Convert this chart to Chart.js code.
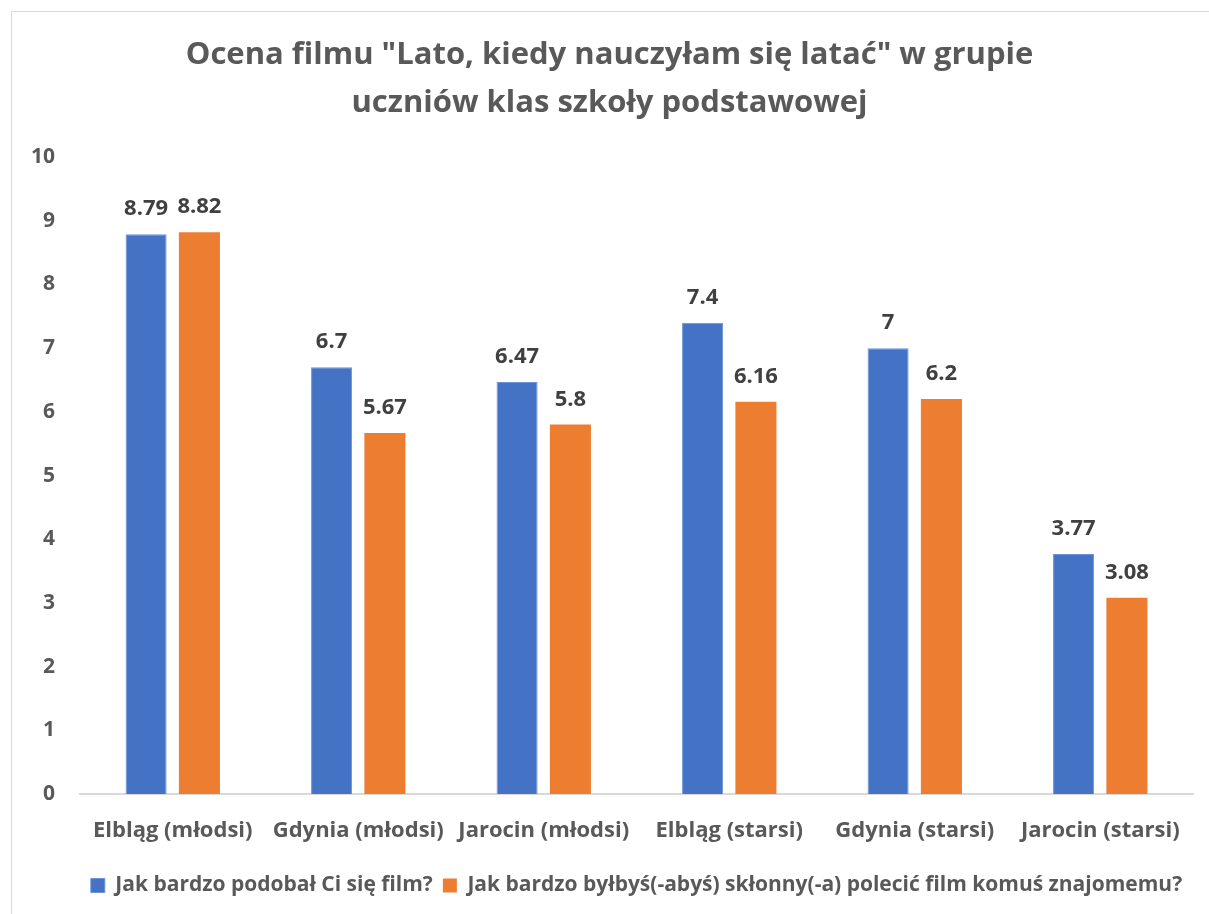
<!DOCTYPE html>
<html>
<head>
<meta charset="utf-8">
<script src="https://cdn.jsdelivr.net/npm/chart.js@4/dist/chart.umd.min.js"></script>
<style>
  html, body { margin: 0; padding: 0; background: #fff; overflow: hidden; }
  #wrap { width: 1209px; height: 914px; }
</style>
</head>
<body>
<div id="wrap"><canvas id="chart" width="1209" height="914"></canvas></div>
<script>
// categories and values
const categories = ['Elbląg (młodsi)', 'Gdynia (młodsi)', 'Jarocin (młodsi)', 'Elbląg (starsi)', 'Gdynia (starsi)', 'Jarocin (starsi)'];
const seriesNames = ['Jak bardzo podobał Ci się film?', 'Jak bardzo byłbyś(-abyś) skłonny(-a) polecić film komuś znajomemu?'];
const likedValues = [8.79, 6.7, 6.47, 7.4, 7, 3.77];
const recommendValues = [8.82, 5.67, 5.8, 6.16, 6.2, 3.08];
const yTicks = [0, 1, 2, 3, 4, 5, 6, 7, 8, 9, 10];

const FONT = "'Open Sans', 'Noto Sans', sans-serif";

// light grey frame around the whole chart (like the office chart area)
const framePlugin = {
    id: 'frame',
    beforeDraw(chart) {
        const c = chart.ctx;
        c.save();
        c.fillStyle = '#fff';
        c.fillRect(0, 0, chart.width, chart.height);
        c.strokeStyle = '#d9d9d9';
        c.lineWidth = 1;
        c.strokeRect(11.5, 11.5, chart.width + 20, chart.height + 20);
        c.restore();
    }
};

// value labels above each bar
const valueLabels = {
    id: 'valueLabels',
    afterDatasetsDraw(chart) {
        const c = chart.ctx;
        c.save();
        c.font = 'bold 22px ' + FONT;
        c.fillStyle = '#404040';
        c.textAlign = 'center';
        c.textBaseline = 'alphabetic';
        chart.data.datasets.forEach((ds, i) => {
            chart.getDatasetMeta(i).data.forEach((bar, j) => {
                c.fillText(String(ds.data[j]), bar.x, bar.y - 19);
            });
        });
        c.restore();
    }
};

const ctx = document.getElementById('chart').getContext('2d');
const myChart = new Chart(ctx, {
    type: 'bar',
    data: {
        labels: categories,
        datasets: [{
            label: seriesNames[0],
            data: likedValues,
            backgroundColor: '#4472c4',
            borderColor: '#6f93d6',
            borderWidth: 1
        }, {
            label: seriesNames[1],
            data: recommendValues,
            backgroundColor: '#ed7d31',
            borderWidth: 0
        }]
    },
    options: {
        responsive: false,
        animation: false,
        categoryPercentage: 0.575,
        barPercentage: 0.77,
        layout: { padding: { left: 26, right: 16, top: 31, bottom: 8 } },
        plugins: {
            title: {
                display: true,
                text: ['Ocena filmu "Lato, kiedy nauczyłam się latać" w grupie', 'uczniów klas szkoły podstawowej'],
                color: '#595959',
                font: { family: FONT, size: 31, weight: 'bold', lineHeight: 1.55 },
                padding: { top: 0, bottom: 30 }
            },
            legend: {
                position: 'bottom',
                fullSize: false,
                labels: {
                    color: '#595959',
                    font: { family: FONT, size: 21, weight: 'bold' },
                    boxWidth: 14,
                    boxHeight: 14,
                    padding: 10,
                    useBorderRadius: false
                }
            },
            tooltip: { enabled: false }
        },
        scales: {
            x: {
                grid: { display: false, drawTicks: false },
                border: { color: '#d9d9d9', width: 2 },
                ticks: {
                    color: '#595959',
                    font: { family: FONT, size: 22, weight: 'bold' },
                    padding: 24,
                    maxRotation: 0
                },
                afterFit(axis) { axis.height = 71; }
            },
            y: {
                min: 0,
                max: 10,
                afterBuildTicks(axis) { axis.ticks = yTicks.map(v => ({ value: v })); },
                grid: { display: false, drawTicks: false },
                border: { display: false },
                ticks: {
                    color: '#595959',
                    font: { family: FONT, size: 21, weight: 'bold' },
                    padding: 25
                },
                afterFit(axis) { axis.width = 54; }
            }
        }
    },
    plugins: [framePlugin, valueLabels]
});
</script>
</body>
</html>
